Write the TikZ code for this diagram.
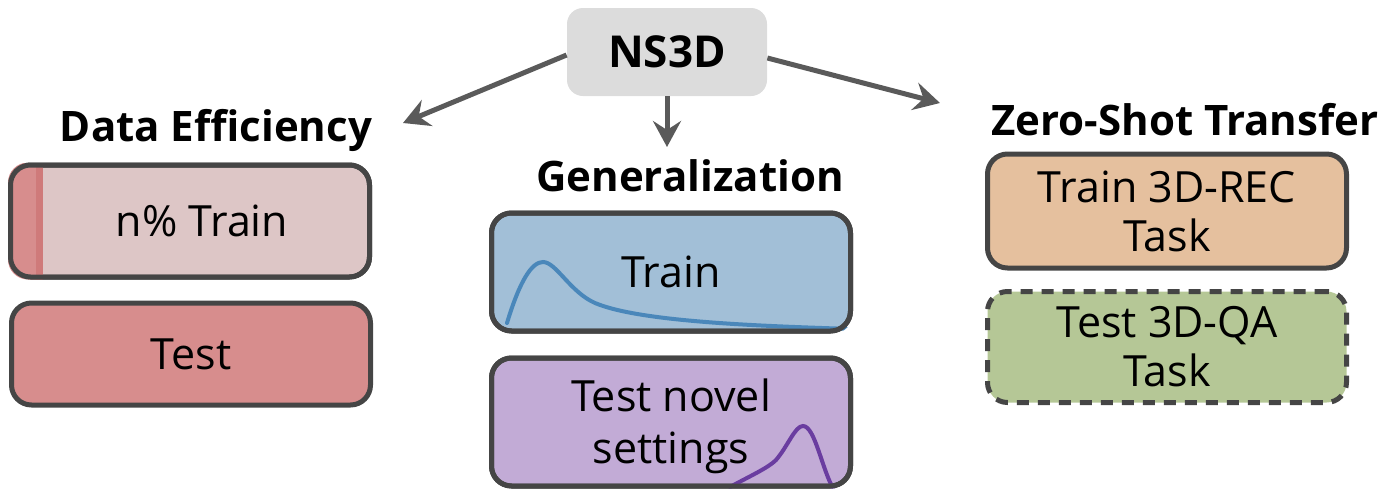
\documentclass[tikz,border=0pt]{standalone}
\usepackage{fontspec}
\setmainfont{Open Sans}
\usetikzlibrary{arrows.meta}
\definecolor{bordc}{HTML}{454545}
\definecolor{arrc}{HTML}{5A5A5A}
\definecolor{nsfill}{HTML}{DCDCDC}
\definecolor{pinkl}{HTML}{DDC6C6}
\definecolor{pinkd}{HTML}{D78D8D}
\definecolor{pinks}{HTML}{CF7A7A}
\definecolor{bluef}{HTML}{A2BFD7}
\definecolor{bluec}{HTML}{4A87BA}
\definecolor{purf}{HTML}{C2ABD6}
\definecolor{purc}{HTML}{6A3DA0}
\definecolor{orf}{HTML}{E5C09E}
\definecolor{grf}{HTML}{B5C796}
\tikzset{
  box/.style={draw=bordc, line width=2.5pt, rounded corners=10pt, minimum width=179.5pt, align=center, font=\fontsize{21.5}{24.5}\selectfont, text=black},
  head/.style={font=\bfseries\fontsize{21}{25}\selectfont, text=black},
  arr/.style={draw=arrc, line width=2.5pt, -{Stealth[length=13pt, width=14pt, inset=4.5pt]}},
  curvel/.style={line width=2pt, line cap=round}
}
\begin{document}
\begin{tikzpicture}[x=0.5pt, y=-0.5pt]
\useasboundingbox (0,0) rectangle (1389,489);
\begin{scope}
\clip (0,0) rectangle (1389,489);
% NS3D
\node[fill=nsfill, rounded corners=8pt, minimum width=100pt, minimum height=44pt, font=\bfseries\fontsize{22}{26}\selectfont] (ns) at (667,52) {NS3D};
% headings
\node[head] (hde) at (216,130) {Data Efficiency};
\node[head] (hgen) at (690,176) {Generalization};
\node[head] (hzs) at (1185,120) {Zero-Shot Transfer};
% data efficiency boxes
\node[box, fill=pinkl, minimum height=56pt] (ntr) at (190,221) {};
\begin{scope}
\clip[rounded corners=10pt] (ntr.south west) rectangle (ntr.north east);
\fill[pinkd] (ntr.south west) rectangle ([xshift=17pt]ntr.north west);
\fill[pinks] ([xshift=14pt]ntr.south west) rectangle ([xshift=17.5pt]ntr.north west);
\end{scope}
\node[box, minimum height=56pt] (ntrb) at (190,221) {\hspace*{12pt}n\% Train};
\node[box, fill=pinkd, minimum height=51pt] (dte) at (191,354) {Test};
% generalization boxes
\node[box, fill=bluef, minimum height=59pt] (gtr) at (671,272) {};
\begin{scope}
\clip[rounded corners=10pt] (gtr.south west) rectangle (gtr.north east);
\draw[curvel, bluec] (507,323) .. controls (520,280) and (532,262) .. (543,262)
  .. controls (556,262) and (570,292) .. (595,303)
  .. controls (640,322) and (760,326) .. (852,329);
\end{scope}
\node[box, minimum height=59pt] (gtrb) at (671,272) {Train};
\node[box, fill=purf, minimum height=64pt] (gte) at (671,422) {};
\begin{scope}
\clip[rounded corners=10pt] (gte.south west) rectangle (gte.north east);
\draw[curvel, purc] (730,487) .. controls (750,476) and (768,468) .. (776,460)
  .. controls (788,446) and (795,426) .. (803,426)
  .. controls (815,426) and (822,470) .. (834,490);
\end{scope}
\node[box, minimum height=64pt] (gteb) at (671,422) {};
\node[font=\fontsize{21.5}{26}\selectfont, align=center] (gtet) at (671,426) {Test novel\\settings};
% zero-shot boxes
\node[box, fill=orf, minimum height=57pt] (rtr) at (1167,211) {Train 3D-REC\\Task};
\node[box, fill=grf, minimum height=55.5pt, dash pattern=on 6pt off 4.5pt] (rte) at (1167,347) {Test 3D-QA\\Task};
% arrows
\coordinate (aL) at (403,123);
\coordinate (aM) at (667,147);
\coordinate (aR) at (940,103);
\draw[arr] ([yshift=-1.5pt]ns.west) -- (aL);
\draw[arr] (ns.south) -- (aM);
\draw[arr] ([yshift=-3pt]ns.east) -- (aR);
\end{scope}
\end{tikzpicture}
\end{document}
